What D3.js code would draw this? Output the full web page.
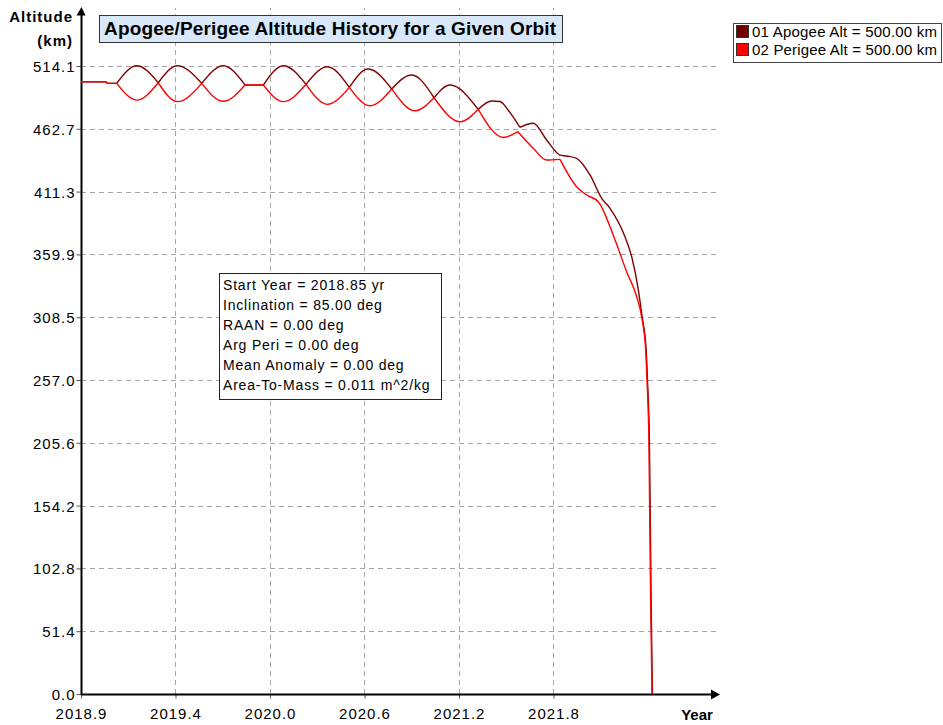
<!DOCTYPE html>
<html>
  <head>
    <meta charset="utf-8">
    <title>Apogee/Perigee Altitude History</title>
    <style>
      body { margin: 0; background: #fff; }
      text { font-family: "Liberation Sans", Arial, sans-serif; fill: #000; }
      .grid line { stroke: #a6a6a6; stroke-width: 1px; stroke-dasharray: 5,4; }
    </style>
    <script src="https://cdnjs.cloudflare.com/ajax/libs/d3/7.8.5/d3.min.js"></script>
  </head>
  <body>
    <script type="text/javascript">
      // values
      var apogeeYears = [2018.850, 2019.003, 2019.010, 2019.069, 2019.192, 2019.324, 2019.442, 2019.591, 2019.723, 2019.857,
                         2019.969, 2020.092, 2020.231, 2020.362, 2020.497, 2020.613, 2020.757, 2020.880, 2021.017, 2021.115,
                         2021.288, 2021.371, 2021.422, 2021.471, 2021.544, 2021.626, 2021.708, 2021.790, 2021.831, 2021.892,
                         2021.974, 2022.046, 2022.097, 2022.189, 2022.230, 2022.271, 2022.294, 2022.319, 2022.327, 2022.339,
                         2022.349, 2022.357];
      var apogeeAlts  = [501.2, 501.2, 499.9, 499.9, 514.3, 500.4, 514.3, 499.9, 514.3, 498.5,
                         498.5, 514.3, 499.1, 513.5, 496.6, 511.6, 495.3, 506.7, 488.1, 498.5,
                         478.6, 485.4, 485.0, 478.1, 463.9, 467.2, 453.5, 441.2, 440.4, 438.5,
                         424.9, 405.8, 397.6, 374.3, 358.0, 330.7, 308.9, 281.6, 257.0, 205.2,
                         81.0, 0];

      var perigeeYears = [2018.850, 2019.003, 2019.010, 2019.069, 2019.192, 2019.324, 2019.442, 2019.591, 2019.723, 2019.857,
                          2019.969, 2020.092, 2020.231, 2020.362, 2020.497, 2020.624, 2020.757, 2020.900, 2021.017, 2021.176,
                          2021.288, 2021.442, 2021.532, 2021.626, 2021.708, 2021.790, 2021.892, 2021.954, 2022.025, 2022.128,
                          2022.199, 2022.261, 2022.291, 2022.316, 2022.324, 2022.336, 2022.346, 2022.355];
      var perigeeAlts  = [501.2, 501.2, 499.9, 499.9, 486.2, 500.4, 484.9, 499.9, 485.2, 498.5,
                          498.5, 484.9, 499.1, 482.7, 496.6, 481.6, 495.3, 477.5, 488.1, 468.5,
                          478.6, 455.6, 460.3, 446.7, 437.1, 437.7, 415.3, 408.5, 403.0, 371.6,
                          345.7, 325.2, 308.9, 281.6, 257.0, 205.2, 81.0, 0];

      var xTickVals   = [2018.85, 2019.43, 2020.01, 2020.59, 2021.17, 2021.75];
      var xTickLabels = ["2018.9", "2019.4", "2020.0", "2020.6", "2021.2", "2021.8"];
      var yTickVals   = [0, 51.41, 102.82, 154.23, 205.64, 257.05, 308.46, 359.87, 411.28, 462.69, 514.1];
      var yTickLabels = ["0.0", "51.4", "102.8", "154.2", "205.6", "257.0", "308.5", "359.9", "411.3", "462.7", "514.1"];

      var seriesNames  = ["01 Apogee Alt = 500.00 km", "02 Perigee Alt = 500.00 km"];
      var seriesColors = ["#800000", "#ff0000"];
      var infoLines = ["Start Year = 2018.85 yr", "Inclination = 85.00 deg", "RAAN = 0.00 deg",
                       "Arg Peri = 0.00 deg", "Mean Anomaly = 0.00 deg", "Area-To-Mass = 0.011 m^2/kg"];

      var width = 943, height = 725;
      var x0 = 81, y0 = 694;

      var svg = d3.select("body").append("svg")
                  .attr("width", width)
                  .attr("height", height);

      var x = d3.scaleLinear().domain([2018.85, 2022.75]).range([x0, 716.4]);
      var y = d3.scaleLinear().domain([0, 514.1]).range([y0, 66]);

      // grid
      var grid = svg.append("g").attr("class", "grid");
      grid.selectAll("line.h").data(yTickVals.slice(1)).enter().append("line")
          .attr("class", "h")
          .attr("x1", x0).attr("x2", 718)
          .attr("y1", function(d) { return Math.round(y(d)) + 0.5; })
          .attr("y2", function(d) { return Math.round(y(d)) + 0.5; });
      grid.selectAll("line.v").data(xTickVals.slice(1)).enter().append("line")
          .attr("class", "v")
          .attr("y1", y0).attr("y2", 8)
          .attr("x1", function(d) { return Math.round(x(d)) + 0.5; })
          .attr("x2", function(d) { return Math.round(x(d)) + 0.5; });

      // axes (lines + arrows added by hand)
      var yAxis = d3.axisLeft(y).tickValues(yTickVals).tickSize(5)
                    .tickFormat(function(d, i) { return yTickLabels[i]; });
      var gy = svg.append("g").attr("transform", "translate(" + (x0 + 0.5) + ",0)").call(yAxis);
      gy.select(".domain").remove();
      gy.selectAll("line").attr("stroke", "#555");
      gy.selectAll("text").attr("font-size", "15px").attr("letter-spacing", "1px")
        .attr("font-family", null).attr("x", -6).attr("dy", "0.36em");

      var xAxis = d3.axisBottom(x).tickValues(xTickVals).tickSize(4)
                    .tickFormat(function(d, i) { return xTickLabels[i]; });
      var gx = svg.append("g").attr("transform", "translate(0," + (y0 + 0.5) + ")").call(xAxis);
      gx.select(".domain").remove();
      gx.selectAll("line").attr("stroke", "#555");
      gx.selectAll("text").attr("font-size", "15px").attr("letter-spacing", "1px")
        .attr("font-family", null).attr("y", 12).attr("dy", "0.85em");

      svg.append("line").attr("x1", x0 + 0.5).attr("x2", x0 + 0.5).attr("y1", y0 + 1).attr("y2", 12)
         .attr("stroke", "#000").attr("stroke-width", 2);
      svg.append("path").attr("d", "M76.5,15.5L85.5,15.5L81.5,7Z").attr("fill", "#000");
      svg.append("line").attr("x1", x0).attr("x2", 714).attr("y1", y0 + 0.5).attr("y2", y0 + 0.5)
         .attr("stroke", "#000").attr("stroke-width", 2);
      svg.append("path").attr("d", "M711,689.5L711,699.5L720,694.5Z").attr("fill", "#000");

      svg.append("text").attr("x", 73).attr("y", 22).attr("text-anchor", "end")
         .attr("font-size", "15px").attr("font-weight", "bold").attr("letter-spacing", "1px").text("Altitude");
      svg.append("text").attr("x", 73).attr("y", 46).attr("text-anchor", "end")
         .attr("font-size", "15px").attr("font-weight", "bold").attr("letter-spacing", "1px").text("(km)");
      svg.append("text").attr("x", 697).attr("y", 720).attr("text-anchor", "middle")
         .attr("font-size", "15px").attr("font-weight", "bold").text("Year");

      // split each series where the line makes a corner (apogee touches perigee)
      function pieces(xs, ys, corner) {
        var pts = xs.map(function(d, i) { return [d, ys[i]]; });
        var out = [], cur = [pts[0]];
        for (var i = 1; i < pts.length; i++) {
          cur.push(pts[i]);
          if (i < pts.length - 1 && corner(pts[i - 1][1], pts[i][1], pts[i + 1][1])) {
            out.push(cur);
            cur = [pts[i]];
          }
        }
        out.push(cur);
        return out;
      }

      var line = d3.line()
                   .x(function(d) { return x(d[0]); })
                   .y(function(d) { return y(d[1]); })
                   .curve(d3.curveMonotoneX);

      var apoPieces = pieces(apogeeYears, apogeeAlts, function(a, b, c) {
        return b <= a && b <= c && !(a === b && b === c);
      });
      var periPieces = pieces(perigeeYears, perigeeAlts, function(a, b, c) {
        return b >= a && b >= c && !(a === b && b === c);
      });

      svg.append("g").selectAll("path").data(apoPieces).enter().append("path")
         .attr("d", line).attr("fill", "none")
         .attr("stroke", seriesColors[0]).attr("stroke-width", 1.4);
      svg.append("g").selectAll("path").data(periPieces).enter().append("path")
         .attr("d", line).attr("fill", "none")
         .attr("stroke", seriesColors[1]).attr("stroke-width", 1.4);

      // title box
      svg.append("rect").attr("x", 99.5).attr("y", 15.5).attr("width", 463).attr("height", 27)
         .attr("fill", "#d9e8f8").attr("stroke", "#333");
      svg.append("text").attr("x", 104).attr("y", 35).attr("font-size", "19px").attr("font-weight", "bold")
         .attr("textLength", 452).attr("lengthAdjust", "spacing")
         .text("Apogee/Perigee Altitude History for a Given Orbit");

      // info box
      svg.append("rect").attr("x", 219.5).attr("y", 273.5).attr("width", 222).attr("height", 126)
         .attr("fill", "#fff").attr("stroke", "#222");
      svg.append("g").selectAll("text").data(infoLines).enter().append("text")
         .attr("x", 223).attr("y", function(d, i) { return 290 + i * 20; })
         .attr("font-size", "14px").attr("letter-spacing", "0.8px")
         .text(function(d) { return d; });

      // legend
      svg.append("rect").attr("x", 733.5).attr("y", 23.5).attr("width", 208).attr("height", 39)
         .attr("fill", "#fff").attr("stroke", "#444");
      var leg = svg.append("g").selectAll("g").data(seriesNames).enter().append("g")
                   .attr("transform", function(d, i) { return "translate(0," + (i * 18) + ")"; });
      leg.append("rect").attr("x", 736.5).attr("y", 25.5).attr("width", 12).attr("height", 12)
         .attr("fill", function(d, i) { return i === 0 ? "#700000" : seriesColors[i]; })
         .attr("stroke", "#333");
      leg.append("text").attr("x", 752).attr("y", 37).attr("font-size", "15px")
         .attr("textLength", 185).attr("lengthAdjust", "spacing")
         .text(function(d) { return d; });
    </script>
  </body>
</html>
